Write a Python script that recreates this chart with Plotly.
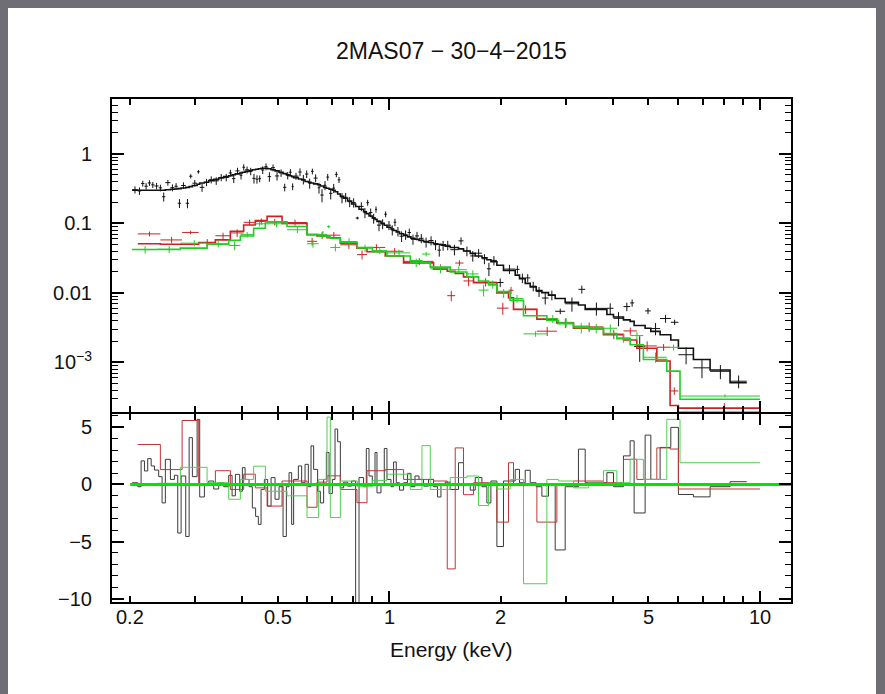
import math
import plotly.graph_objects as go

# ---------------------------------------------------------------- text
title_text = "2MAS07 − 30−4−2015"
x_label = "Energy (keV)"

# ---------------------------------------------------------------- black spectrum (bins in keV)
black_edges = [
    0.2025, 0.2097, 0.2141, 0.2186, 0.2231, 0.2279, 0.2326, 0.2388, 0.2439, 0.2489,
    0.2568, 0.2633, 0.2688, 0.2745, 0.2825, 0.2885, 0.2944, 0.3032, 0.3081, 0.3172,
    0.3258, 0.3361, 0.3467, 0.3576, 0.3689, 0.3767, 0.3845, 0.3949, 0.4016, 0.4084,
    0.4185, 0.4272, 0.4360, 0.4434, 0.4510, 0.4603, 0.4699, 0.4799, 0.4919, 0.5043,
    0.5170, 0.5277, 0.5366, 0.5454, 0.5521, 0.5685, 0.5802, 0.5927, 0.6049, 0.6151,
    0.6252, 0.6408, 0.6517, 0.6652, 0.6765, 0.6880, 0.7022, 0.7140, 0.7257, 0.7380,
    0.7533, 0.7722, 0.7916, 0.8115, 0.8287, 0.8525, 0.8670, 0.8817, 0.8999, 0.9151,
    0.9265, 0.9497, 0.9694, 0.9858, 1.0106, 1.0271, 1.0444, 1.0660, 1.0928, 1.1203,
    1.1441, 1.1730, 1.2025, 1.2373, 1.2762, 1.3164, 1.3495, 1.3784, 1.4154, 1.4601,
    1.5372, 1.5857, 1.6532, 1.7055, 1.7778, 1.8334, 1.8795, 1.9509, 2.0324, 2.1860,
    2.2452, 2.3261, 2.3995, 2.4901, 2.5799, 2.6879, 2.8020, 2.9811, 3.2374, 3.3757,
    3.8627, 4.0241, 4.2816, 4.4627, 4.5750, 4.8978, 5.0746, 5.3765, 5.7450, 6.0228,
    6.6115, 7.3334, 8.2999, 9.2084,
]
black_model = [
    0.30, 0.30, 0.30, 0.30, 0.30, 0.30, 0.30, 0.30, 0.30, 0.305,
    0.31, 0.312, 0.316, 0.322, 0.33, 0.338, 0.35, 0.365, 0.38, 0.39,
    0.41, 0.43, 0.45, 0.47, 0.485, 0.50, 0.515, 0.53, 0.545, 0.56,
    0.575, 0.59, 0.60, 0.61, 0.62, 0.62, 0.61, 0.59, 0.57, 0.545,
    0.52, 0.50, 0.485, 0.47, 0.455, 0.435, 0.42, 0.40, 0.39, 0.38,
    0.37, 0.36, 0.345, 0.33, 0.32, 0.31, 0.30, 0.285, 0.265, 0.245,
    0.23, 0.21, 0.19, 0.175, 0.16, 0.147, 0.138, 0.128, 0.12, 0.114,
    0.107, 0.10, 0.094, 0.088, 0.083, 0.079, 0.075, 0.071, 0.067, 0.064,
    0.061, 0.059, 0.057, 0.055, 0.053, 0.051, 0.050, 0.049, 0.047, 0.045,
    0.043, 0.040, 0.037, 0.034, 0.032, 0.030, 0.028, 0.025, 0.021, 0.018,
    0.016, 0.0137, 0.0122, 0.0108, 0.0101, 0.0093, 0.0083, 0.0073, 0.0067, 0.0058,
    0.0049, 0.0045, 0.0041, 0.0039, 0.0034, 0.0031, 0.0028, 0.0025, 0.0021, 0.0016,
    0.0011, 0.00078, 0.00051,
]
black_resid = [
    0.15, -0.2, 2.06, 1.18, 2.26, 1.62, 1.26, 0.68, -1.62, 2.2,
    0.44, 0.8, -4.26, 0.74, -4.56, 4.1, 0.68, 5.7, -1.1, 0.0,
    0.3, -0.4, 0.15, -0.2, 0.8, -1.0, 0.88, -0.6, 1.47, 0.44,
    -0.2, -2.06, -2.8, -3.5, -0.44, 0.44, -1.9, 0.6, -1.3, -0.2,
    -4.56, -0.2, 1.03, -3.5, 0.44, 1.62, 0.15, 1.76, -0.2, 3.38,
    1.32, -0.6, -1.62, 0.44, 2.8, -0.8, 0.44, 4.85, 3.74, -0.3,
    0.2, -0.15, 0.3, -10.6, 0.6, -0.2, 3.15, 0.74, -0.1, 2.8,
    -0.74, -0.1, 3.15, 0.44, -0.2, 1.97, 0.15, -0.5, 0.15, 0.97,
    -0.2, 0.74, 0.44, -0.15, 0.44, -0.2, -1.1, -0.1, 0.2, -0.44,
    1.9, 0.0, -0.5, 0.6, -0.2, -1.62, 0.3, -5.44, 0.3, 1.32,
    0.15, 1.24, 0.15, -0.2, -1.03, 0.0, -5.74, -0.2, 3.09, 0.15,
    1.03, -0.2, 2.5, 3.82, -2.5, 4.32, 0.44, 3.24, 5.0, -0.88,
    -1.09, -0.2, 0.24,
]
black_relerr = [
    0.12, 0.12, 0.12, 0.12, 0.12, 0.12, 0.12, 0.12, 0.12, 0.12,
    0.12, 0.12, 0.09, 0.12, 0.09, 0.10, 0.12, 0.09, 0.12, 0.12,
    0.12, 0.12, 0.12, 0.12, 0.12, 0.12, 0.12, 0.12, 0.12, 0.12,
    0.12, 0.12, 0.10, 0.08, 0.12, 0.12, 0.12, 0.12, 0.12, 0.12,
    0.08, 0.12, 0.12, 0.08, 0.12, 0.16, 0.16, 0.16, 0.16, 0.14,
    0.16, 0.16, 0.16, 0.16, 0.16, 0.16, 0.16, 0.16, 0.16, 0.16,
    0.16, 0.16, 0.16, 0.03, 0.16, 0.16, 0.14, 0.16, 0.16, 0.14,
    0.16, 0.16, 0.14, 0.16, 0.16, 0.16, 0.16, 0.16, 0.16, 0.16,
    0.16, 0.16, 0.16, 0.16, 0.16, 0.16, 0.16, 0.16, 0.16, 0.16,
    0.16, 0.16, 0.16, 0.16, 0.16, 0.16, 0.16, 0.08, 0.16, 0.16,
    0.16, 0.16, 0.16, 0.16, 0.16, 0.16, 0.06, 0.22, 0.22, 0.22,
    0.22, 0.22, 0.22, 0.22, 0.20, 0.18, 0.22, 0.22, 0.16, 0.22,
    0.22, 0.22, 0.22,
]

# ---------------------------------------------------------------- red spectrum
red_edges = [
    0.2097, 0.2413, 0.2762, 0.3062, 0.3396, 0.3727, 0.4048, 0.4352, 0.4682, 0.5138,
    0.6000, 0.6385, 0.6794, 0.7380, 0.8182, 0.8707, 0.9754, 1.0928, 1.3164, 1.4333,
    1.5060, 1.5857, 1.6873, 1.9509, 2.0966, 2.1630, 2.5010, 2.8314, 3.1391, 3.7817,
    4.2816, 4.6529, 5.2676, 5.7200, 6.0228, 10.0,
]
red_model = [
    0.051, 0.050, 0.050, 0.053, 0.058, 0.077, 0.095, 0.110, 0.126, 0.100,
    0.069, 0.066, 0.062, 0.052, 0.044, 0.039, 0.034, 0.027, 0.022, 0.0205,
    0.019, 0.017, 0.014, 0.0100, 0.0085, 0.0058, 0.0042, 0.0037, 0.0031, 0.0025,
    0.0021, 0.0016, 0.00105, 0.00024, 0.00022,
]
red_resid = [
    3.5, 1.3, 5.6, 0.0, 1.2, -0.44, 0.9, -0.3, -1.9, 0.3,
    -2.0, 0.2, 0.75, -0.44, -1.6, 1.2, 1.3, 0.44, 0.3, -7.4,
    3.2, -0.9, 0.15, -3.3, 1.9, 0.0, -3.3, 0.0, 0.3, 0.15,
    2.2, 0.44, 3.2, 3.1, -0.4,
]
red_relerr = [
    0.11, 0.12, 0.086, 0.12, 0.12, 0.12, 0.10, 0.10, 0.09, 0.10,
    0.10, 0.12, 0.12, 0.12, 0.12, 0.13, 0.13, 0.12, 0.13, 0.075,
    0.13, 0.14, 0.14, 0.12, 0.15, 0.14, 0.10, 0.16, 0.16, 0.16,
    0.16, 0.18, 0.18, 0.20, 0.30,
]

# ---------------------------------------------------------------- green spectrum
green_edges = [
    0.2025, 0.2365, 0.2732, 0.3225, 0.3689, 0.3966, 0.4307, 0.4632, 0.5300, 0.6000,
    0.6449, 0.6794, 0.6934, 0.7380, 0.8200, 0.9000, 0.9858, 1.1392, 1.2249, 1.2900,
    1.4601, 1.6197, 1.7407, 1.8520, 1.9509, 2.1187, 2.3014, 2.6613, 2.8596, 3.1400,
    3.4500, 3.7817, 4.1096, 4.4627, 4.8463, 5.6039, 6.0830, 10.0,
]
green_model = [
    0.042, 0.042, 0.044, 0.050, 0.057, 0.066, 0.085, 0.105, 0.090, 0.069,
    0.066, 0.064, 0.061, 0.053, 0.045, 0.039, 0.034, 0.029, 0.027, 0.0235,
    0.020, 0.017, 0.0148, 0.013, 0.0105, 0.0078, 0.0047, 0.0040, 0.0036, 0.0033,
    0.0030, 0.0026, 0.0022, 0.0018, 0.0011, 0.00075, 0.000295,
]
green_resid = [
    0.0, 0.1, 1.5, 0.15, -1.3, 0.44, 1.6, -0.6, -1.0, -2.9,
    0.44, 5.9, -2.9, 0.3, -0.2, 0.35, 0.9, -0.44, 3.4, -0.44,
    0.6, 0.74, -1.85, 0.15, -0.4, 0.44, -8.7, 0.44, 0.3, -0.3,
    0.2, 1.2, 0.15, 2.2, 0.44, 5.7, 1.9,
]
green_relerr = [
    0.12, 0.12, 0.12, 0.12, 0.12, 0.10, 0.10, 0.10, 0.10, 0.09,
    0.12, 0.068, 0.09, 0.12, 0.12, 0.12, 0.12, 0.13, 0.10, 0.13,
    0.13, 0.14, 0.14, 0.14, 0.14, 0.14, 0.052, 0.14, 0.16, 0.16,
    0.16, 0.16, 0.16, 0.16, 0.18, 0.21, 0.06,
]

# ---------------------------------------------------------------- axes
x_range_kev = [0.1787, 12.12]
flux_range_log = [-3.713, 0.789]
resid_range = [-10.3, 6.17]

x_major_ticks = [1, 10]
x_minor_ticks = [0.2, 0.3, 0.4, 0.5, 0.6, 0.7, 0.8, 0.9, 2, 3, 4, 5, 6, 7, 8, 9]
x_label_vals = [0.2, 0.5, 1, 2, 5, 10]
x_label_text = ["0.2", "0.5", "1", "2", "5", "10"]
flux_tick_vals = [1e-3, 1e-2, 0.1, 1]
flux_tick_text = ["10<sup>−3</sup>", "0.01", "0.1", "1"]
flux_minor_vals = [k * d for d in (1e-4, 1e-3, 1e-2, 1e-1, 1) for k in range(2, 10)]
resid_tick_vals = [-10, -5, 0, 5]
resid_tick_text = ["−10", "−5", "0", "5"]

BLACK, RED, GREEN = "#111111", "#cc2222", "#22cc22"
RESID_COLORS = {"black": "#3a3a3a", "red": "#c03535", "green": "#4fd04f"}
FONT = "Liberation Sans, Arial, Helvetica, sans-serif"
TEXT_COLOR = "#111111"

x_range_log = [math.log10(v) for v in x_range_kev]


def spectrum(edges, model, resid, relerr):
    lo, hi = edges[:-1], edges[1:]
    centers = [(a + b) / 2 for a, b in zip(lo, hi)]
    err = [m * e for m, e in zip(model, relerr)]
    data = [m + r * s for m, r, s in zip(model, resid, err)]
    return centers, data, err, lo, hi


fig = go.Figure()

series = [
    ("black", BLACK, black_edges, black_model, black_resid, black_relerr),
    ("red", RED, red_edges, red_model, red_resid, red_relerr),
    ("green", GREEN, green_edges, green_model, green_resid, green_relerr),
]

for name, color, edges, model, resid, relerr in series:
    centers, data, err, lo, hi = spectrum(edges, model, resid, relerr)
    # data points with bin-width and 1-sigma error bars
    fig.add_trace(go.Scatter(
        x=centers, y=data, mode="markers",
        marker=dict(size=0.1, color=color),
        error_x=dict(type="data", symmetric=False,
                     array=[b - c for b, c in zip(hi, centers)],
                     arrayminus=[c - a for a, c in zip(lo, centers)],
                     width=0, thickness=1, color=color),
        error_y=dict(type="data", array=err, width=0, thickness=1, color=color),
        xaxis="x", yaxis="y", hoverinfo="skip",
    ))
    # folded model as a histogram
    fig.add_trace(go.Scatter(
        x=edges, y=model + [model[-1]], mode="lines",
        line=dict(shape="hv", width=1.6, color=color),
        xaxis="x", yaxis="y", hoverinfo="skip",
    ))

for name, color, edges, model, resid, relerr in series:
    fig.add_trace(go.Scatter(
        x=edges, y=resid + [resid[-1]], mode="lines",
        line=dict(shape="hv", width=1, color=RESID_COLORS[name]),
        xaxis="x2", yaxis="y2", hoverinfo="skip",
    ))

# zero level of the residuals
fig.add_trace(go.Scatter(
    x=[0.2, x_range_kev[1]], y=[0, 0], mode="lines",
    line=dict(width=3, color="#00e600"),
    xaxis="x2", yaxis="y2", hoverinfo="skip",
))

# the two panels leave a 2 px gap so their shared border lines coincide
split = 189 / 503
gap = 1 / 503
tick_font = dict(family=FONT, size=20, color=TEXT_COLOR)

common_x = dict(
    type="log", range=x_range_log, autorange=False,
    showline=True, linewidth=2, linecolor="black",
    mirror="allticks", ticks="inside", ticklen=11, tickwidth=1.8, tickcolor="black",
    tickmode="array", tickvals=x_major_ticks, showticklabels=False,
    minor=dict(tickmode="array", tickvals=x_minor_ticks, ticks="inside",
               ticklen=6, tickwidth=1.5, tickcolor="black", showgrid=False),
    showgrid=False, zeroline=False,
)

fig.update_layout(
    width=885, height=694,
    margin=dict(l=112, r=94, t=99, b=92),
    paper_bgcolor="white", plot_bgcolor="white",
    showlegend=False,
    font=dict(family=FONT, color=TEXT_COLOR),
    title=dict(text=title_text, x=0.5, xref="paper", y=1 - 51 / 694, yref="container",
               xanchor="center", yanchor="middle", font=dict(family=FONT, size=23, color=TEXT_COLOR)),
    xaxis=dict(common_x, anchor="y"),
    xaxis2=dict(common_x, anchor="y2"),
    yaxis=dict(
        type="log", range=flux_range_log, autorange=False, domain=[split + gap, 1], anchor="x",
        showline=True, linewidth=2, linecolor="black", mirror="allticks",
        ticks="inside", ticklen=12, tickwidth=1.8, tickcolor="black",
        tickmode="array", tickvals=flux_tick_vals, ticktext=flux_tick_text,
        minor=dict(tickmode="array", tickvals=flux_minor_vals, ticks="inside",
                   ticklen=6, tickwidth=1.4, tickcolor="black", showgrid=False),
        showgrid=False, zeroline=False, tickfont=tick_font, ticklabelstandoff=14,
    ),
    yaxis2=dict(
        range=resid_range, autorange=False, domain=[0, split - gap], anchor="x2",
        showline=True, linewidth=2, linecolor="black", mirror="allticks",
        ticks="inside", ticklen=12, tickwidth=1.8, tickcolor="black",
        tickmode="array", tickvals=resid_tick_vals, ticktext=resid_tick_text,
        minor=dict(dtick=1, ticks="inside", ticklen=6, tickwidth=1.4,
                   tickcolor="black", showgrid=False),
        showgrid=False, zeroline=False, tickfont=tick_font, ticklabelstandoff=14,
    ),
)

# energy labels under the residual panel, placed on the energy axis
for val, txt in zip(x_label_vals, x_label_text):
    fig.add_annotation(x=math.log10(val), xref="x2", y=0, yref="paper",
                       yanchor="top", yshift=-2, text=txt, showarrow=False,
                       font=tick_font)
fig.add_annotation(x=0.5, xref="paper", y=0, yref="paper", yanchor="top", yshift=-34,
                   text=x_label, showarrow=False,
                   font=dict(family=FONT, size=21, color=TEXT_COLOR))

# dark surround on the left, top and right of the page
frame_gray = "#6f6e75"
pw, ph = 679, 503
for x0, x1, y0, y1 in [
    (-112 / pw, -104 / pw, -92 / ph, 602 / ph),
    (-112 / pw, 773 / pw, 594 / ph, 602 / ph),
    (764 / pw, 773 / pw, -92 / ph, 602 / ph),
]:
    fig.add_shape(type="rect", xref="paper", yref="paper", x0=x0, x1=x1, y0=y0, y1=y1,
                  line=dict(width=0), fillcolor=frame_gray, layer="above")

fig.write_html("out.html")
